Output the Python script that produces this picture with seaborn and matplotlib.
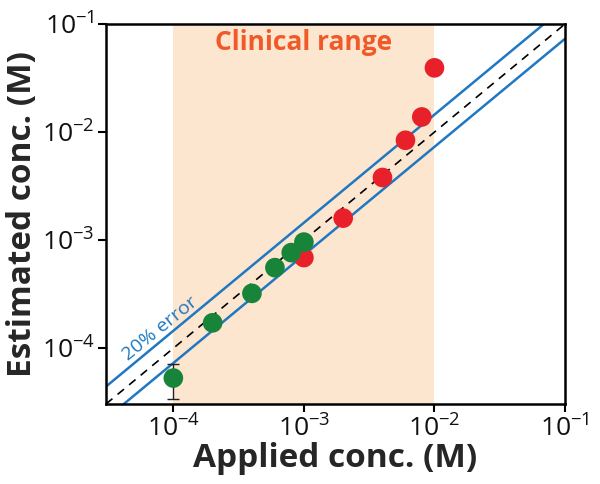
import matplotlib
matplotlib.use("Agg")
import matplotlib.pyplot as plt
import seaborn as sns
import numpy as np
import pandas as pd

# Data
green_applied = [1e-4, 2e-4, 4e-4, 6e-4, 8e-4, 1e-3]
green_estimated = [5.3e-5, 1.72e-4, 3.22e-4, 5.57e-4, 7.67e-4, 9.6e-4]
green_err_low = [3.36e-5, None, None, None, None, None]
green_err_high = [7.1e-5, None, None, None, None, None]
red_applied = [1e-3, 2e-3, 4e-3, 6e-3, 8e-3, 1e-2]
red_estimated = [6.9e-4, 1.6e-3, 3.8e-3, 8.4e-3, 1.38e-2, 3.93e-2]
clinical_range = [1e-4, 1e-2]
error_upper_factor = 1.45
error_lower_factor = 0.73
x_ticks = [1e-4, 1e-3, 1e-2, 1e-1]
x_tick_labels = ["$10^{-4}$", "$10^{-3}$", "$10^{-2}$", "$10^{-1}$"]
y_ticks = [1e-4, 1e-3, 1e-2, 1e-1]
y_tick_labels = ["$10^{-4}$", "$10^{-3}$", "$10^{-2}$", "$10^{-1}$"]
lims = [3.05e-5, 1e-1]

sns.set_theme(style="white")
plt.rcParams['font.family'] = ['Open Sans', 'DejaVu Sans']
plt.rcParams['mathtext.fontset'] = 'custom'
plt.rcParams['mathtext.rm'] = 'Open Sans'
plt.rcParams['mathtext.it'] = 'Open Sans'

fig = plt.figure(figsize=(6.0, 4.84), dpi=100)
ax = fig.add_axes([106/600, 1-404/484, 459/600, 380/484])
ax.set_xscale("log")
ax.set_yscale("log")

ax.axvspan(clinical_range[0], clinical_range[1], color="#fce6cf", zorder=0, lw=0)

xx = np.array(lims)
ax.plot(xx, xx, ls=(0, (5, 4)), color="black", lw=1.2, zorder=2)
ax.plot(xx, xx * error_upper_factor, color="#1f78c1", lw=1.8, zorder=2)
ax.plot(xx, xx * error_lower_factor, color="#1f78c1", lw=1.8, zorder=2)

# error bar for first green point
ax.errorbar([green_applied[0]], [green_estimated[0]],
            yerr=[[green_estimated[0] - green_err_low[0]], [green_err_high[0] - green_estimated[0]]],
            fmt="none", ecolor="#222222", elinewidth=1.0, capsize=4, zorder=3)

df_red = pd.DataFrame({"x": red_applied, "y": red_estimated})
df_green = pd.DataFrame({"x": green_applied, "y": green_estimated})
sns.scatterplot(data=df_red, x="x", y="y", ax=ax, color="#e8202a", s=200, edgecolor="none", zorder=4)
sns.scatterplot(data=df_green, x="x", y="y", ax=ax, color="#17843a", s=200, edgecolor="none", zorder=5)

ax.set_xlim(lims)
ax.set_ylim(lims)
ax.set_xticks(x_ticks)
ax.set_xticklabels(x_tick_labels)
ax.set_yticks(y_ticks)
ax.set_yticklabels(y_tick_labels)
ax.minorticks_off()
ax.tick_params(axis="both", which="major", direction="out", length=6, width=1.5,
               labelsize=19, color="black", labelcolor="#111111", bottom=True, left=True, pad=2)

for s in ax.spines.values():
    s.set_linewidth(1.8)
    s.set_color("black")

ax.set_xlabel("Applied conc. (M)", fontsize=24, fontweight="bold", labelpad=0)
ax.set_ylabel("Estimated conc. (M)", fontsize=24, fontweight="bold", labelpad=2)

ax.text(1e-3, 0.95 - 0.0, "Clinical range", transform=ax.get_xaxis_transform(),
        ha="center", va="center", fontsize=19, fontweight="bold", color="#f05a28")

# "20% error" label along the upper line
ax.text(7.9e-5, 1.53e-4, "20% error", color="#1f78c1", fontsize=14,
        rotation=39, ha="center", va="center", rotation_mode="anchor")

fig.savefig("out.png", dpi=100)
